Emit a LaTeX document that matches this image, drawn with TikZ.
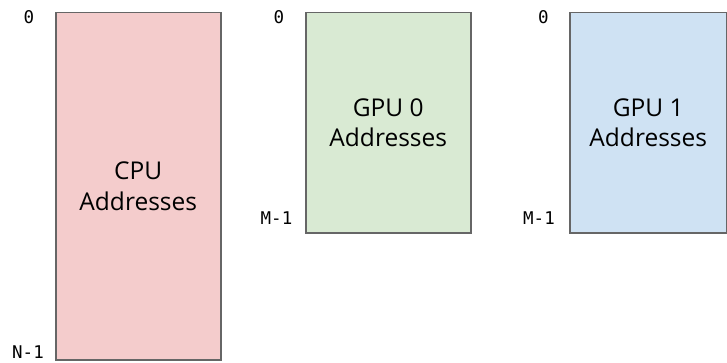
\documentclass[tikz,border=0pt]{standalone}
\usepackage{fontspec}
\setmainfont{Open Sans}
\setmonofont{DejaVu Sans Mono}
\usepackage{tikz}
\usetikzlibrary{calc,positioning}

\definecolor{cpufill}{HTML}{F4CCCC}
\definecolor{gpuzerofill}{HTML}{D9EAD3}
\definecolor{gpuonefill}{HTML}{CFE2F3}
\definecolor{boxline}{HTML}{666666}

\begin{document}
\begin{tikzpicture}[x = 1pt,
                    y = -1pt,
                    color = {black}]
% style of the address blocks
\tikzset{memblock/.style={draw=boxline,line width=1.5pt,rectangle,anchor=north west,
  align=center,inner sep=0pt,font=\fontsize{24.5}{30.5}\selectfont}}
% style of the address labels
\tikzset{addrlabel/.style={font=\ttfamily\fontsize{17.5}{18}\selectfont,inner sep=0pt}}

% page
\useasboundingbox (0,0) rectangle (727,363);

% blocks
\node[memblock,fill=cpufill,minimum width=165pt,minimum height=347pt] (cpu) at (55,12)
  {CPU\\Addresses};
\node[memblock,fill=gpuzerofill,minimum width=165pt,minimum height=220pt] (gpu0) at (305,12)
  {GPU 0\\Addresses};
\node[memblock,fill=gpuonefill,minimum width=157pt,minimum height=220pt] (gpu1) at (569,12)
  {GPU 1\\Addresses};

% labels
%CPU
\node[addrlabel] (cpu top) at (29,17) {0};
\node[addrlabel] (cpu bot) at (28,352.5) {N-1};
%GPU 0
\node[addrlabel] (gpu0 top) at (279,17) {0};
\node[addrlabel] (gpu0 bot) at (276.5,218.5) {M-1};
%GPU 1
\node[addrlabel] (gpu1 top) at (543.5,17) {0};
\node[addrlabel] (gpu1 bot) at (539,218.5) {M-1};
\end{tikzpicture}
\end{document}
